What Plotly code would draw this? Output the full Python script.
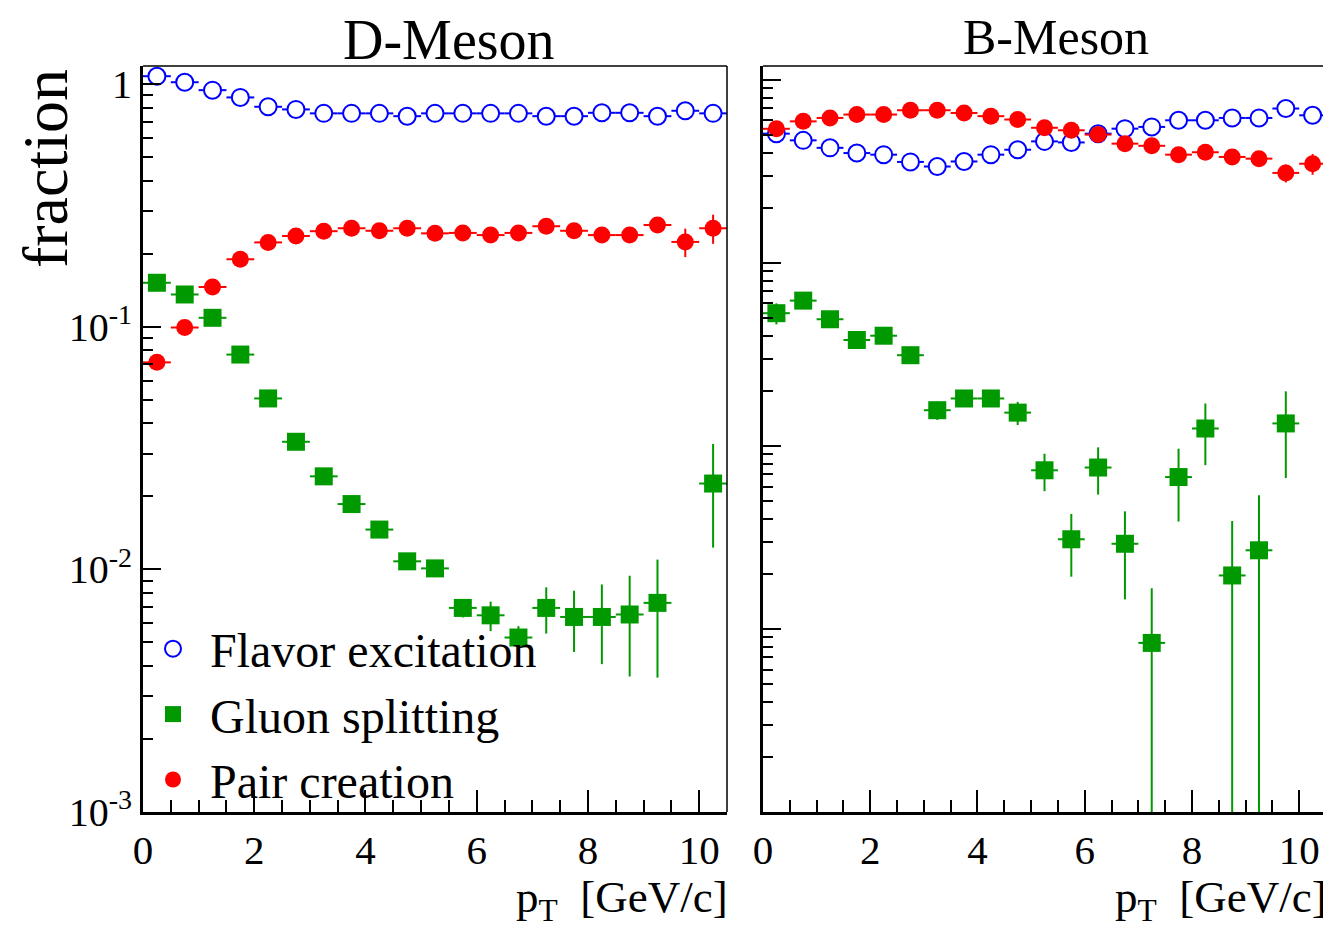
import plotly.graph_objects as go

# ---------------- data ----------------
pt = [0.25, 0.75, 1.25, 1.75, 2.25, 2.75, 3.25, 3.75, 4.25, 4.75, 5.25,
      5.75, 6.25, 6.75, 7.25, 7.75, 8.25, 8.75, 9.25, 9.75, 10.25]
pt_halfwidth = [0.25] * 21

d_flavor = [1.08, 1.02, 0.946, 0.883, 0.808, 0.788, 0.759, 0.759, 0.759, 0.739, 0.759,
            0.759, 0.759, 0.759, 0.739, 0.739, 0.763, 0.763, 0.739, 0.778, 0.759]
d_flavor_err = [0.01, 0.01, 0.01, 0.01, 0.01, 0.01, 0.01, 0.01, 0.01, 0.01, 0.01,
                0.01, 0.01, 0.01, 0.01, 0.01, 0.012, 0.012, 0.013, 0.015, 0.016]
d_gluon = [0.152, 0.136, 0.109, 0.0769, 0.0507, 0.0336, 0.0242, 0.0186, 0.0146, 0.0108, 0.0101,
           0.00694, 0.00647, 0.00524, 0.00694, 0.00637, 0.00637, 0.00652, 0.00728, None, 0.0226]
d_gluon_err = [0.004, 0.004, 0.003, 0.002, 0.0015, 0.001, 0.0008, 0.0007, 0.0006, 0.0005, 0.0005,
               0.0006, 0.0009, 0.0006, 0.0015, 0.0018, 0.0023, 0.0029, 0.0037, 0, 0.0103]
d_pair = [0.0714, 0.0994, 0.146, 0.190, 0.223, 0.237, 0.248, 0.255, 0.249, 0.255, 0.243,
          0.244, 0.239, 0.244, 0.260, 0.249, 0.239, 0.239, 0.263, 0.224, 0.255]
d_pair_err = [0.003, 0.003, 0.004, 0.005, 0.005, 0.005, 0.005, 0.006, 0.006, 0.006, 0.007,
              0.007, 0.008, 0.008, 0.009, 0.010, 0.011, 0.012, 0.014, 0.030, 0.035]

b_flavor = [0.508, 0.467, 0.425, 0.398, 0.390, 0.356, 0.336, 0.358, 0.390, 0.415, 0.461,
            0.455, 0.508, 0.541, 0.553, 0.601, 0.601, 0.619, 0.619, 0.697, 0.640]
b_flavor_err = [0.012, 0.012, 0.012, 0.012, 0.012, 0.012, 0.012, 0.012, 0.013, 0.013, 0.014,
                0.014, 0.015, 0.016, 0.016, 0.018, 0.018, 0.02, 0.02, 0.024, 0.026]
b_gluon = [0.0531, 0.0622, 0.0492, 0.0379, 0.0400, 0.0313, 0.01567, 0.01816, 0.01816, 0.01520, 0.00736,
           0.00309, 0.00762, 0.00292, 0.000839, 0.00676, 0.01245, 0.00196, 0.00269, 0.01327, None]
b_gluon_err = [0.007, 0.004, 0.003, 0.003, 0.003, 0.003, 0.0018, 0.0012, 0.0012, 0.0022, 0.0017,
               0.00116, 0.0022, 0.00147, 0.00083, 0.0029, 0.0046, 0.00193, 0.00268, 0.0066, 0]
b_pair = [0.540, 0.593, 0.619, 0.646, 0.646, 0.682, 0.682, 0.659, 0.633, 0.607, 0.547,
          0.530, 0.502, 0.448, 0.436, 0.390, 0.402, 0.379, 0.371, 0.310, 0.348]
b_pair_err = [0.015, 0.015, 0.015, 0.015, 0.016, 0.018, 0.018, 0.018, 0.018, 0.018, 0.018,
              0.019, 0.02, 0.02, 0.02, 0.02, 0.022, 0.024, 0.026, 0.035, 0.045]

series_names = ["Flavor excitation", "Gluon splitting", "Pair creation"]
panel_titles = ["D-Meson", "B-Meson"]
x_title = "p<sub>T</sub>  [GeV/c]"
y_title = "fraction"
y_tickvals_d = [1e-3, 1e-2, 1e-1, 1]
y_ticktext_d = ["10<sup>-3</sup>", "10<sup>-2</sup>", "10<sup>-1</sup>", "1"]
y_tickvals_b = [1e-4, 1e-3, 1e-2, 1e-1, 1]

# ---------------- style ----------------
OFF = 8  # default page body margin
W, H = 1331 - OFF, 935 - 2 * OFF
# plot frame in reference-page pixels
L1, R1, L2, R2, T, B = 143, 727, 763, 1326, 66, 812
ML, MT = L1 - OFF, T - OFF
MR = W - (R2 - OFF)
MB = H - (B - OFF)
PW, PH = W - ML - MR, H - MT - MB
FONT = "Liberation Serif, Times New Roman, serif"
BLUE, GREEN, RED = "#0000ff", "#009900", "#ff0000"


def px(x):  # reference page pixel -> paper
    return (x - OFF - ML) / PW


def py(y):
    return (H - MB - (y - OFF)) / PH


fig = go.Figure()


def add_series(x, y, err, name, color, symbol, fill, size, xa, ya, show):
    fig.add_trace(go.Scatter(
        x=x, y=y, mode="markers", name=name, showlegend=show,
        xaxis=xa, yaxis=ya,
        marker=dict(symbol=symbol, size=size, color=fill,
                    line=dict(color=color, width=2 if fill == "white" else 0)),
        error_y=dict(type="data", array=err, color=color, thickness=2, width=0),
        error_x=dict(type="data", array=pt_halfwidth, color=color, thickness=2, width=0),
    ))


add_series(pt, d_flavor, d_flavor_err, series_names[0], BLUE, "circle", "white", 17, "x", "y", True)
add_series(pt, d_gluon, d_gluon_err, series_names[1], GREEN, "square", GREEN, 18, "x", "y", True)
add_series(pt, d_pair, d_pair_err, series_names[2], RED, "circle", RED, 17, "x", "y", True)
add_series(pt, b_flavor, b_flavor_err, series_names[0], BLUE, "circle", "white", 17, "x2", "y2", False)
add_series(pt, b_gluon, b_gluon_err, series_names[1], GREEN, "square", GREEN, 18, "x2", "y2", False)
add_series(pt, b_pair, b_pair_err, series_names[2], RED, "circle", RED, 17, "x2", "y2", False)


def minor_vals(lo, hi):
    out = []
    for e in range(lo, hi):
        for m in range(2, 10):
            out.append(m * 10 ** e)
    return out


TOP = 0.0755
xaxis_common = dict(range=[0, 10.5], dtick=2, tick0=0, ticks="inside", ticklen=22, tickwidth=2,
                    tickcolor="black", showline=True, linecolor="black", linewidth=3,
                    showgrid=False, zeroline=False,
                    tickfont=dict(family=FONT, size=41, color="black"),
                    minor=dict(dtick=0.5, ticks="inside", ticklen=12, tickwidth=2, tickcolor="black",
                               showgrid=False))
yaxis_common = dict(type="log", ticks="inside", ticklen=18, tickwidth=2, tickcolor="black",
                    showline=True, linecolor="black", linewidth=3, showgrid=False, zeroline=False,
                    tickfont=dict(family=FONT, size=40, color="black"))

fig.update_layout(
    width=W, height=H,
    margin=dict(l=ML, r=MR, t=MT, b=MB),
    paper_bgcolor="white", plot_bgcolor="white",
    font=dict(family=FONT, color="black"),
    xaxis=dict(domain=[0, px(R1)], anchor="y", **xaxis_common),
    xaxis2=dict(domain=[px(L2), 1], anchor="y2", **xaxis_common),
    yaxis=dict(domain=[0, 1], anchor="x", range=[-3, TOP],
               tickmode="array", tickvals=y_tickvals_d, ticktext=y_ticktext_d,
               minor=dict(tickmode="array", tickvals=minor_vals(-3, 0), ticks="inside",
                          ticklen=10, tickwidth=2, tickcolor="black", showgrid=False),
               **yaxis_common),
    yaxis2=dict(domain=[0, 1], anchor="x2", range=[-4, TOP],
                tickmode="array", tickvals=y_tickvals_b, showticklabels=False,
                minor=dict(tickmode="array", tickvals=minor_vals(-4, 0), ticks="inside",
                           ticklen=10, tickwidth=2, tickcolor="black", showgrid=False),
                **yaxis_common),
    legend=dict(x=px(136), y=py(611), xanchor="left", yanchor="top",
                bgcolor="rgba(0,0,0,0)", borderwidth=0,
                font=dict(family=FONT, size=48, color="black"),
                tracegroupgap=0, itemwidth=64),
    showlegend=True,
)

# frame top/right lines
for xr, yr in [("x domain", "y domain"), ("x2 domain", "y2 domain")]:
    fig.add_shape(type="line", xref=xr, yref=yr, x0=0, x1=1, y0=1, y1=1,
                  line=dict(color="black", width=1.5))
    fig.add_shape(type="line", xref=xr, yref=yr, x0=1, x1=1, y0=0, y1=1,
                  line=dict(color="black", width=1.5))

annos = [
    dict(text=panel_titles[0], x=px(449), y=py(40), size=56, xanchor="center"),
    dict(text=panel_titles[1], x=px(1056), y=py(37), size=50, xanchor="center"),
    dict(text=x_title, x=px(R1 + 2), y=py(900), size=45, xanchor="right"),
    dict(text=x_title, x=px(R2 + 2), y=py(900), size=45, xanchor="right"),
    dict(text=y_title, x=px(45), y=py(168), size=64, xanchor="center", textangle=-90),
]
for a in annos:
    size = a.pop("size")
    fig.add_annotation(xref="paper", yref="paper", showarrow=False, yanchor="middle",
                       borderpad=0,
                       font=dict(family=FONT, color="black", size=size), **a)

fig.write_html("out.html")
